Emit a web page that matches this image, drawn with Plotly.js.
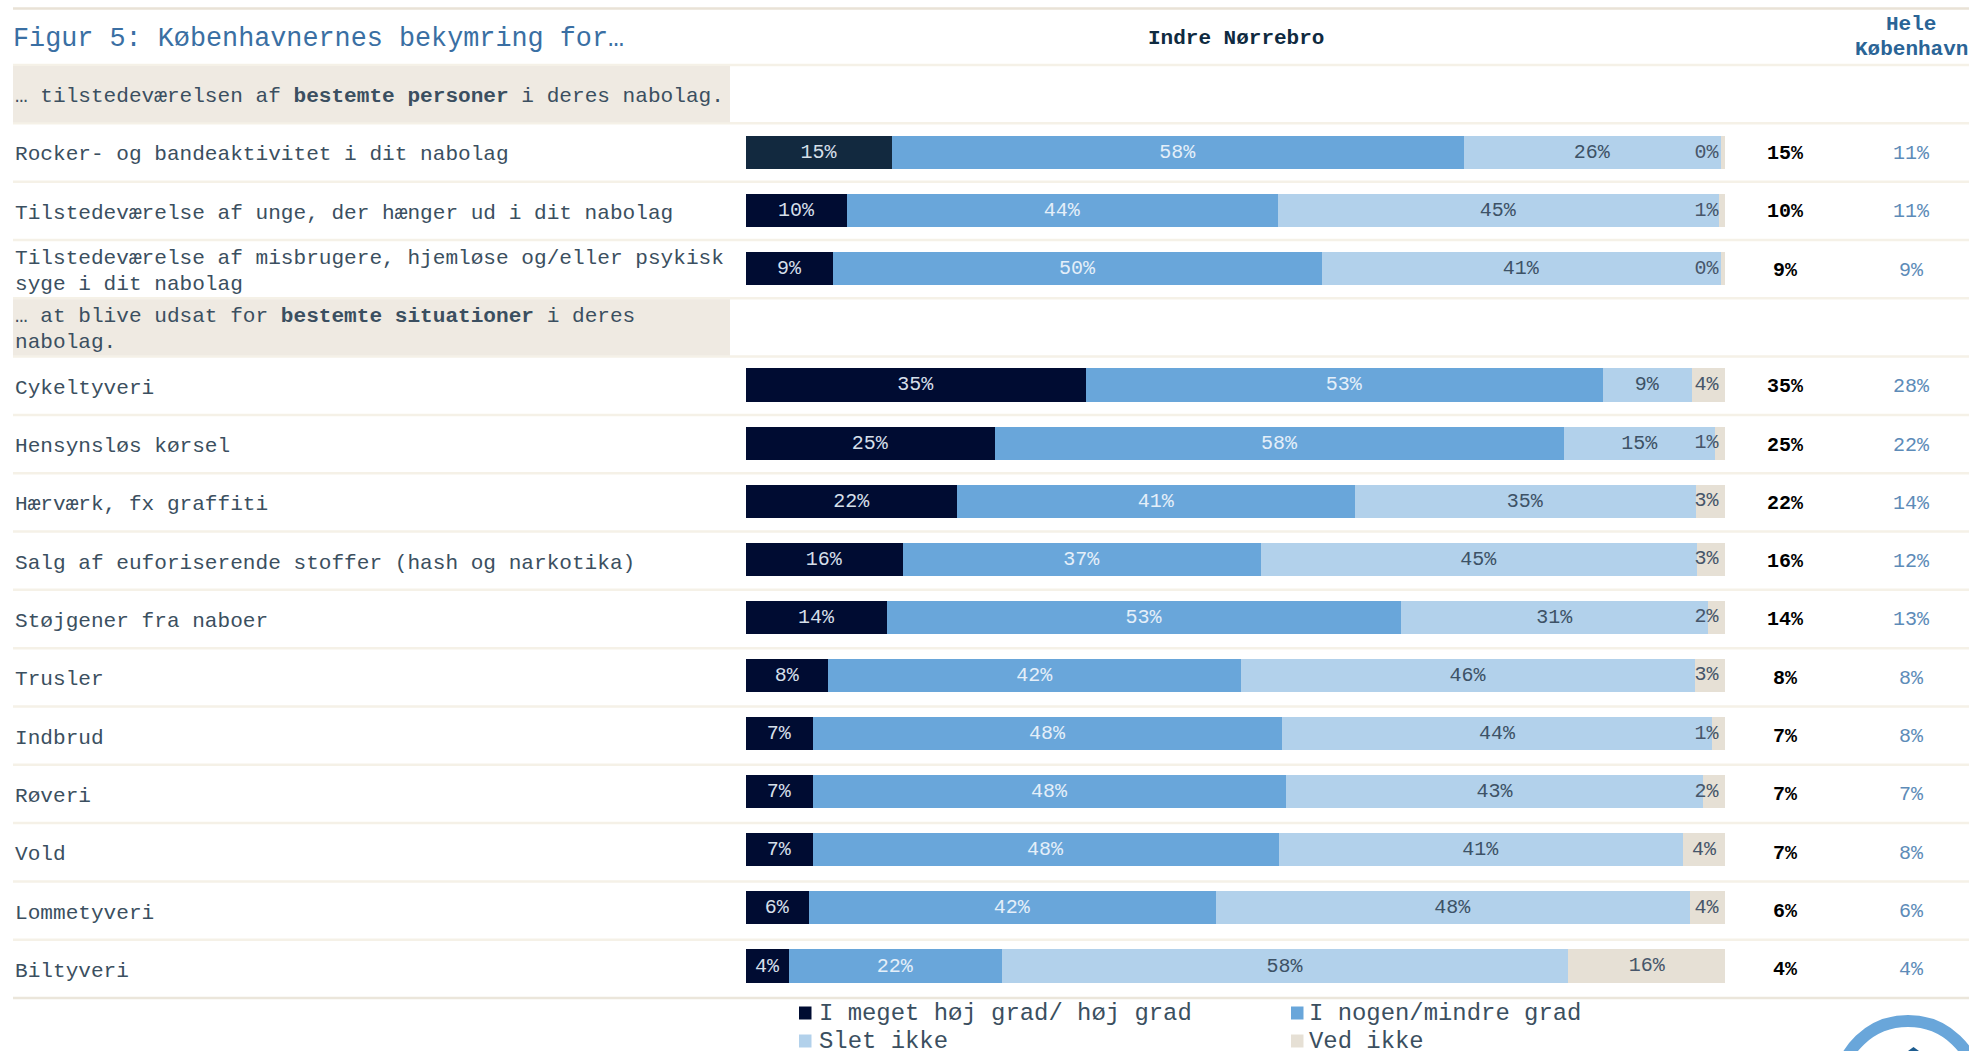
<!DOCTYPE html>
<html><head><meta charset="utf-8">
<script src="https://cdn.plot.ly/plotly-3.0.1.min.js"></script>
<style>html,body{margin:0;padding:0;background:#fff;overflow:hidden}#c{width:1969px;height:1051px}</style>
</head><body><div id="c"></div>
<script>
const figureTitle = "Figur 5: Københavnernes bekymring for…";
const headerArea = "Indre Nørrebro";
const headerCity = ["Hele","København"];
const sectionA = "… tilstedeværelsen af <b>bestemte personer</b> i deres nabolag.";
const sectionB = "… at blive udsat for <b>bestemte situationer</b> i deres<br>nabolag.";
const items = [
 "Rocker- og bandeaktivitet i dit nabolag",
 "Tilstedeværelse af unge, der hænger ud i dit nabolag",
 "Tilstedeværelse af misbrugere, hjemløse og/eller psykisk<br>syge i dit nabolag",
 "Cykeltyveri","Hensynsløs kørsel","Hærværk, fx graffiti",
 "Salg af euforiserende stoffer (hash og narkotika)",
 "Støjgener fra naboer","Trusler","Indbrud","Røveri","Vold","Lommetyveri","Biltyveri"];
const rows = [sectionA, ...items.slice(0,3), sectionB, ...items.slice(3)];
const seriesNames = ["I meget høj grad/ høj grad","I nogen/mindre grad","Slet ikke","Ved ikke"];
const high    = [14.9,10.3, 8.9,34.7,25.4,21.6,16.0,14.4, 8.4, 6.8, 6.8, 6.8, 6.4, 4.4];
const some    = [58.4,44.0,49.9,52.8,58.2,40.6,36.6,52.5,42.2,48.0,48.4,47.6,41.6,21.7];
const none    = [26.3,45.1,40.8, 9.1,15.4,34.8,44.5,31.4,46.3,43.9,42.6,41.3,48.4,57.9];
const unknown = [ 0.4, 0.6, 0.4, 3.6, 1.0, 3.0, 2.9, 1.7, 3.1, 1.3, 2.2, 4.3, 3.6,16.0];
const areaTotal = [15,10,9,35,25,22,16,14,8,7,7,7,6,4];
const cityTotal = [11,11,9,28,22,14,12,13,8,8,7,8,6,4];
const colors = ["#000c32","#69a6da","#b2d1eb","#e6e0d5"];
const firstRowDark = "#12293f";

const MONO = '"Liberation Mono","Courier New",monospace';
const W=1969,H=1051,L=746,R=1725,T=65,B=998;
const xp=p=>(p-L)/(R-L), yp=p=>(B-p)/(B-T);
const rowCenter=k=>T+(B-T)*(k+0.5)/16;
const pct=v=>v.toFixed(0)+"%";

function bar(i,vals,tc,mc){return {type:"bar",orientation:"h",name:seriesNames[i],y:items,x:vals,
  marker:{color:mc||colors[i],line:{width:0}},
  text:i<3?vals.map(pct):undefined,textposition:i<3?"inside":"none",insidetextanchor:"middle",
  textangle:0,constraintext:"none",showlegend:false,
  insidetextfont:{family:MONO,size:20,color:tc},hoverinfo:"x+y+name"};}
const traces=[
  bar(0,high,"#d5dfe9",items.map((_,k)=>k===0?firstRowDark:colors[0])),
  bar(1,some,"#e4eff9"),
  bar(2,none,"#3d5266"),
  bar(3,unknown,"#3d5266"),
  {type:"scatter",mode:"text",showlegend:false,hoverinfo:"skip",cliponaxis:false,y:items,
   x:unknown.map((u,k)=>Math.min(high[k]+some[k]+none[k]+u/2,98.1)),
   text:unknown.map(pct),textposition:"middle center",
   textfont:{family:MONO,size:20,color:"#47566a"}}
];

const shapes=[];
for(let k=0;k<=16;k++){const py=T+(B-T)*k/16;
  shapes.push({type:"line",xref:"paper",yref:"paper",x0:xp(13),x1:xp(W),y0:yp(py),y1:yp(py),
  line:{color:k===16?"#ebe6db":"#f5f1e7",width:2.5},layer:"below"});}
shapes.push({type:"line",xref:"paper",yref:"paper",x0:xp(13),x1:xp(W),y0:yp(8.5),y1:yp(8.5),line:{color:"#e9e2d6",width:2.5},layer:"below"});
[0,4].forEach(k=>{
  shapes.push({type:"rect",xref:"paper",yref:"paper",x0:xp(13),x1:xp(730),y0:yp(T+(B-T)*k/16+1),y1:yp(T+(B-T)*(k+1)/16-1),
  fillcolor:"#efeae2",line:{width:0},layer:"below"});});
shapes.push({type:"circle",xref:"paper",yref:"paper",x0:xp(1840),x1:xp(1976),y0:yp(1151),y1:yp(1021),
  fillcolor:"rgba(0,0,0,0)",line:{color:"#69a6da",width:12}});
shapes.push({type:"path",xref:"paper",yref:"paper",
  path:`M ${xp(1908)} ${yp(1051)} L ${xp(1913.5)} ${yp(1047)} L ${xp(1919)} ${yp(1051)} Z`,fillcolor:"#1d5c8f",line:{width:0}});

const ann=[];
const note=(px,py,text,size,color,anchor)=>ann.push({xref:"paper",yref:"paper",x:xp(px),y:yp(py),
  xanchor:anchor||"center",yanchor:"middle",align:"left",showarrow:false,text,font:{family:MONO,size,color}});
rows.forEach((r,k)=>{
  const parts=r.split("<br>"), c=rowCenter(k)+2;
  parts.forEach((t,j)=>note(12.5,c+(j-(parts.length-1)/2)*26,t,21.1,"#3b4f60","left"));
});
const rowOf=it=>rows.indexOf(it);
items.forEach((it,k)=>{
  note(1785,rowCenter(rowOf(it))+1,"<b>"+areaTotal[k]+"%</b>",20,"#000");
  note(1911,rowCenter(rowOf(it))+1,cityTotal[k]+"%",20,"#5d8bb8");
});
note(1236,39,"<b>"+headerArea+"</b>",21,"#0f2a40");
headerCity.forEach((t,j)=>note(1911,24+25*j,"<b>"+t+"</b>",21,"#2a6496"));

const legendCols=[799,1291], legendRows=[1013,1041];
seriesNames.forEach((n,i)=>{
  const cx=legendCols[i%2], cy=legendRows[Math.floor(i/2)];
  shapes.push({type:"rect",xref:"paper",yref:"paper",x0:xp(cx),x1:xp(cx+12.5),y0:yp(cy+6.5),y1:yp(cy-6.5),
    fillcolor:colors[i],line:{width:0}});
  note(cx+(i%2?16:18),cy,n,23.9,"#3b4f60","left");
});

const layout={width:W,height:H,paper_bgcolor:"#fff",plot_bgcolor:"rgba(0,0,0,0)",barmode:"stack",bargap:0.43,
 margin:{l:L,r:W-R,t:T,b:H-B,pad:0,autoexpand:false},
 title:{text:figureTitle,xref:"container",yref:"container",x:13/W,xanchor:"left",y:1-37/H,yanchor:"middle",
   font:{family:MONO,size:26.8,color:"#3a6fa3"}},
 xaxis:{range:[0,100],visible:false,fixedrange:true},
 yaxis:{type:"category",categoryorder:"array",categoryarray:rows,range:[15.55,-0.506],visible:false,fixedrange:true},
 shapes,annotations:ann,showlegend:false};
Plotly.newPlot("c",traces,layout,{displayModeBar:false,staticPlot:true});
</script></body></html>
